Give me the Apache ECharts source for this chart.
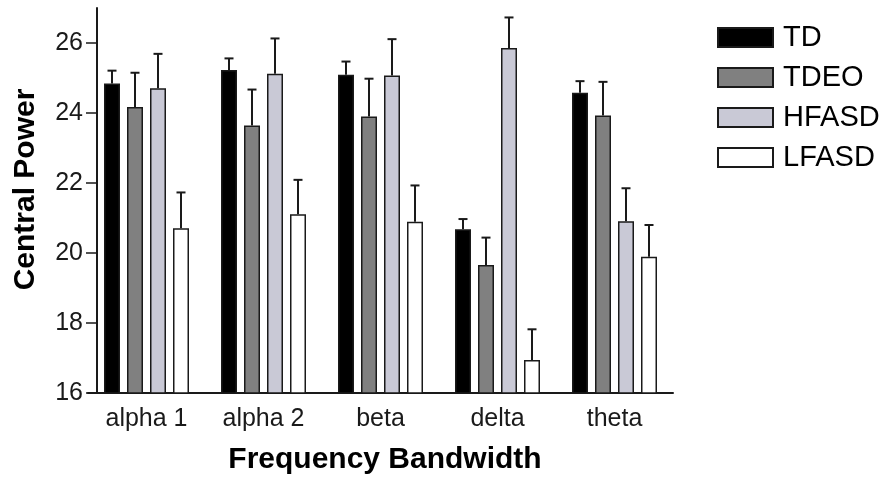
<!DOCTYPE html>
<html>
<head>
<meta charset="utf-8">
<script src="https://cdn.jsdelivr.net/npm/echarts@6/dist/echarts.min.js"></script>
<style>
  html, body { margin: 0; padding: 0; background: #fff; }
  #main { width: 885px; height: 480px; }
</style>
</head>
<body>
<div id="main"></div>
<script>
// categories and values
var bands = ['alpha 1', 'alpha 2', 'beta', 'delta', 'theta'];
var groups = ['TD', 'TDEO', 'HFASD', 'LFASD'];

var tdMean    = [24.84, 25.23, 25.09, 20.68, 24.58];
var tdeoMean  = [24.17, 23.64, 23.90, 19.66, 23.93];
var hfasdMean = [24.71, 25.12, 25.07, 25.86, 20.91];
var lfasdMean = [20.71, 21.11, 20.89, 16.94, 19.89];

// upper end of error bars
var tdUp    = [25.21, 25.56, 25.47, 20.97, 24.91];
var tdeoUp  = [25.15, 24.67, 24.98, 20.44, 24.89];
var hfasdUp = [25.69, 26.13, 26.11, 26.73, 21.85];
var lfasdUp = [21.73, 22.09, 21.93, 17.82, 20.80];

var yTicks = [16, 18, 20, 22, 24, 26];

var means = [tdMean, tdeoMean, hfasdMean, lfasdMean];
var ups = [tdUp, tdeoUp, hfasdUp, lfasdUp];
var fills = ['#000000', '#808080', '#c9c9d6', '#ffffff'];

var BAR_W = 16, GAP = 7;
var font = 'Liberation Sans, Arial, sans-serif';

var dom = document.getElementById('main');
var chart = echarts.init(dom);

var series = [];
for (var i = 0; i < groups.length; i++) {
    series.push({
        name: groups[i],
        type: 'bar',
        barWidth: BAR_W,
        barGap: (GAP / BAR_W * 100) + '%',
        itemStyle: { color: fills[i], borderColor: '#1a1a1a', borderWidth: 1.5 },
        data: means[i]
    });
}
// error bars, one custom series per group so the x offset is known
for (var j = 0; j < groups.length; j++) {
    (function (k) {
        var off = (k - 1.5) * (BAR_W + GAP);
        var data = [];
        for (var c = 0; c < bands.length; c++) data.push([c, means[k][c], ups[k][c]]);
        series.push({
            name: groups[k] + ' err',
            type: 'custom',
            z: 1,
            data: data,
            renderItem: function (params, api) {
                var lo = api.coord([api.value(0), api.value(1)]);
                var hi = api.coord([api.value(0), api.value(2)]);
                var x = lo[0] + off;
                var st = { stroke: '#1a1a1a', lineWidth: 2 };
                return {
                    type: 'group',
                    children: [
                        { type: 'line', shape: { x1: x, y1: lo[1], x2: x, y2: hi[1] }, style: st },
                        { type: 'line', shape: { x1: x - 4.5, y1: hi[1], x2: x + 4.5, y2: hi[1] }, style: st }
                    ]
                };
            }
        });
    })(j);
}

var option = {
    animation: false,
    textStyle: { fontFamily: font },
    grid: { left: 88, right: 212, top: 8, bottom: 86 },
    legend: {
        data: groups,
        orient: 'vertical',
        icon: 'rect',
        left: 712,
        top: 18,
        itemWidth: 55,
        itemHeight: 19,
        itemGap: 11,
        textStyle: { fontSize: 29, color: '#000', fontFamily: font, padding: [0, 0, 0, 5] }
    },
    xAxis: {
        type: 'category',
        data: bands,
        name: 'Frequency Bandwidth',
        nameLocation: 'middle',
        nameGap: 52,
        nameTextStyle: { fontSize: 30, fontWeight: 'bold', color: '#000', padding: [0, 0, 0, 9] },
        axisLine: { lineStyle: { color: '#1a1a1a', width: 2 } },
        axisTick: { show: false },
        axisLabel: { fontSize: 25, color: '#1a1a1a', margin: 14 }
    },
    yAxis: {
        type: 'value',
        min: 16,
        max: 27,
        interval: 2,
        offset: -9,
        name: 'Central Power',
        nameLocation: 'middle',
        nameGap: 56,
        nameTextStyle: { fontSize: 30, fontWeight: 'bold', color: '#000', padding: [0, 0, 0, 22] },
        axisLine: { show: true, lineStyle: { color: '#1a1a1a', width: 2 } },
        axisTick: { show: true, length: 11, customValues: yTicks, lineStyle: { color: '#1a1a1a', width: 1.5 } },
        axisLabel: { fontSize: 25, color: '#1a1a1a', margin: 14, customValues: yTicks },
        splitLine: { show: false }
    },
    series: series
};

chart.setOption(option);
</script>
</body>
</html>
